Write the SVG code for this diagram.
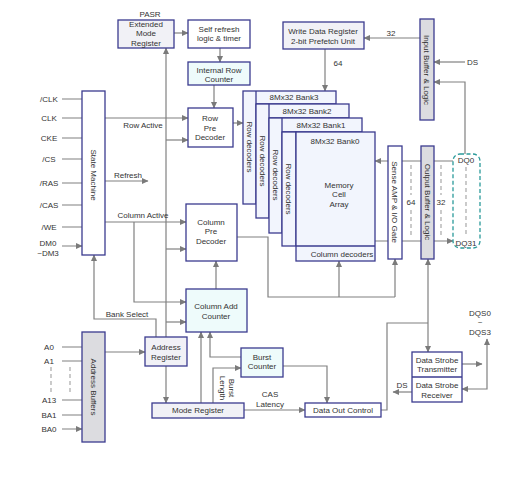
<svg xmlns="http://www.w3.org/2000/svg" width="509" height="493" viewBox="0 0 509 493">
<defs>
<marker id="ah" markerUnits="userSpaceOnUse" markerWidth="7" markerHeight="6" refX="6" refY="3" orient="auto-start-reverse"><path d="M0,0 L6.5,3 L0,6 z" fill="#7a7a7a"/></marker>
</defs>
<style>
text{font-family:"Liberation Sans",Arial,sans-serif;font-size:8px;fill:#333}
.c{text-anchor:middle}
.b{stroke:#3b3b8f;stroke-width:1.3;fill:#fff}
.g{fill:#dcdce0}
.lg{fill:#f1f1f6}
.cy{fill:#eefbfb}
.bk{fill:#f2f5fd}
.l{stroke:#808080;stroke-width:1.2;fill:none}
.a{marker-end:url(#ah)}
.bi{marker-start:url(#ah);marker-end:url(#ah)}
.d{stroke:#a8a8a8;stroke-width:1.2;stroke-dasharray:4 3;fill:none}
</style>
<rect width="509" height="493" fill="#fff"/>

<g id="connectors">
<!-- control inputs -->
<path class="l a" d="M62,99H82M62,118H82M62,138H82M62,159H82M62,183H82M62,205H82M62,227H82M62,246H82"/>
<!-- address inputs -->
<path class="l a" d="M62,347H82M62,361H82M62,400H82M62,415H82M62,429H82"/>
<path class="d" d="M51,367V393M70,367V393"/>
<!-- state machine outputs -->
<path class="l a" d="M105,118H188"/>
<path class="l a" d="M105,181H148"/>
<path class="l a" d="M105,222H186"/>
<path class="l a" d="M134,222V302H186"/>
<!-- long vertical -->
<path class="l a" d="M166,337V48"/>
<path class="l a" d="M166,140H188"/>
<path class="l a" d="M166,249H186"/>
<path class="l a" d="M166,322H186"/>
<path class="l a" d="M166,366V403"/>
<!-- bank select -->
<path class="l a" d="M156,337V319H94V255"/>
<path class="l a" d="M105,352H145"/>
<!-- top chain -->
<path class="l a" d="M174,33H188"/>
<path class="l a" d="M220,48V62"/>
<path class="l a" d="M214,85V108"/>
<path class="l a" d="M233,123H243"/>
<!-- column path -->
<path class="l a" d="M216,289V261"/>
<path class="l" d="M237,237H268V297H395"/>
<path class="l a" d="M339,297V261"/>
<path class="l a" d="M395,297V259"/>
<!-- mode/burst -->
<path class="l a" d="M201,403V332"/>
<path class="l a" d="M241,357H210V332"/>
<path class="l a" d="M213,403V368H241"/>
<path class="l a" d="M283,366H327V403"/>
<path class="l a" d="M244,410H305"/>
<!-- data out -->
<path class="l" d="M381,410H387V323H428"/>
<path class="l a" d="M428,323V259"/>
<path class="l a" d="M428,323V352"/>
<!-- data strobe -->
<path class="l a" d="M462,364H482"/>
<path class="l bi" d="M487,339V389H462"/>
<path class="l a" d="M412,392H393"/>
<!-- write path -->
<path class="l a" d="M420,38H364"/>
<path class="l a" d="M325,49V91"/>
<path class="l a" d="M465,62H434"/>
<path class="l a" d="M465,154V82H434"/>
<!-- bidirectional data -->
<path class="l bi" d="M375,161H388M375,241H388M402,161H421M402,241H421M434,161H453M434,241H453"/>
<path class="d" d="M411,165V195M411,210V236M441,165V195M441,210V236M466,167V237"/>
</g>

<g id="labels">
<text class="c" x="49" y="102">/CLK</text>
<text class="c" x="49" y="121">CLK</text>
<text class="c" x="49" y="141">CKE</text>
<text class="c" x="49" y="162">/CS</text>
<text class="c" x="49" y="186">/RAS</text>
<text class="c" x="49" y="208">/CAS</text>
<text class="c" x="49" y="230">/WE</text>
<text class="c" x="48" y="246">DM0</text>
<text class="c" x="48" y="256">~DM3</text>
<text class="c" x="49" y="350">A0</text>
<text class="c" x="49" y="364">A1</text>
<text class="c" x="49" y="403">A13</text>
<text class="c" x="49" y="418">BA1</text>
<text class="c" x="49" y="432">BA0</text>
<text class="c" x="143" y="128">Row Active</text>
<text class="c" x="128" y="178">Refresh</text>
<text class="c" x="143" y="218">Column Active</text>
<text class="c" x="127" y="317">Bank Select</text>
<text class="c" x="150" y="17">PASR</text>
<text class="c" x="391" y="36">32</text>
<text class="c" x="338" y="66">64</text>
<text x="467" y="65">DS</text>
<text class="c" x="411" y="205">64</text>
<text class="c" x="441" y="205">32</text>
<text class="c" x="402" y="388">DS</text>
<text class="c" x="270" y="397">CAS</text>
<text class="c" x="270" y="407">Latency</text>
<text class="c" transform="translate(226,388) rotate(90)"><tspan x="0" y="-3">Burst</tspan><tspan x="0" y="6">Length</tspan></text>
<text class="c" x="480" y="316">DQS0</text>
<text class="c" x="480" y="325">~</text>
<text class="c" x="480" y="335">DQS3</text>
</g>

<g id="emr"><rect class="b lg" x="118" y="20" width="56" height="28"/>
<text class="c" x="146" y="27">Extended</text><text class="c" x="146" y="36">Mode</text><text class="c" x="146" y="46">Register</text></g>

<g id="self-refresh"><rect class="b" x="188" y="20" width="62" height="28"/>
<text class="c" x="219" y="32">Self refresh</text><text class="c" x="219" y="41">logic &amp; timer</text></g>

<g id="internal-row-counter"><rect class="b cy" x="188" y="62" width="62" height="23"/>
<text class="c" x="219" y="73">Internal  Row</text><text class="c" x="219" y="82">Counter</text></g>

<g id="row-pre-decoder"><rect class="b" x="188" y="108" width="45" height="39"/>
<text class="c" x="210" y="121">Row</text><text class="c" x="210" y="131">Pre</text><text class="c" x="210" y="140">Decoder</text></g>

<g id="state-machine"><rect class="b" x="82" y="91" width="23" height="164"/>
<text class="c" transform="translate(93.5,175) rotate(90)" y="3">State Machine</text></g>

<g id="column-pre-decoder"><rect class="b" x="186" y="204" width="51" height="57"/>
<text class="c" x="211" y="225">Column</text><text class="c" x="211" y="234">Pre</text><text class="c" x="211" y="244">Decoder</text></g>

<g id="column-add-counter"><rect class="b cy" x="186" y="289" width="61" height="43"/>
<text class="c" x="216" y="309">Column Add</text><text class="c" x="216" y="319">Counter</text></g>

<g id="address-register"><rect class="b lg" x="145" y="337" width="42" height="29"/>
<text class="c" x="166" y="350">Address</text><text class="c" x="166" y="360">Register</text></g>

<g id="address-buffers"><rect class="b g" x="82" y="332" width="23" height="110"/>
<text class="c" transform="translate(93.5,387) rotate(90)" y="3">Address Buffers</text></g>

<g id="mode-register"><rect class="b lg" x="152" y="403" width="92" height="15"/>
<text class="c" x="198" y="413">Mode Register</text></g>

<g id="burst-counter"><rect class="b cy" x="241" y="348" width="42" height="29"/>
<text class="c" x="262" y="360">Burst</text><text class="c" x="262" y="369">Counter</text></g>

<g id="data-out-control"><rect class="b" x="305" y="403" width="76" height="14"/>
<text class="c" x="343" y="413">Data Out Control</text></g>

<g id="data-strobe"><rect class="b" x="412" y="352" width="50" height="50"/>
<path d="M412,377H462" stroke="#3b3b8f" stroke-width="1.3"/>
<text class="c" x="437" y="363">Data Strobe</text><text class="c" x="437" y="372">Transmitter</text>
<text class="c" x="437" y="388">Data Strobe</text><text class="c" x="437" y="398">Receiver</text></g>

<g id="write-data-register"><rect class="b lg" x="283" y="22" width="81" height="27"/>
<text class="c" x="323" y="34">Write Data Register</text><text class="c" x="323" y="44">2-bit Prefetch Unit</text></g>

<g id="input-buffer"><rect class="b g" x="420" y="19" width="14" height="101"/>
<text class="c" transform="translate(427,70) rotate(90)" y="3">Input Buffer &amp; Logic</text></g>

<g id="bank3"><rect class="b bk" x="243" y="91" width="93" height="113"/>
<path d="M256,91V204M256,104H336" stroke="#3b3b8f" stroke-width="1.3"/>
<text class="c" x="294" y="100">8Mx32 Bank3</text>
<text class="c" transform="translate(249.5,147) rotate(90)" y="3">Row decoders</text></g>

<g id="bank2"><rect class="b bk" x="256" y="104" width="93" height="114"/>
<path d="M269,104V218M269,118H349" stroke="#3b3b8f" stroke-width="1.3"/>
<text class="c" x="307" y="114">8Mx32 Bank2</text>
<text class="c" transform="translate(262.5,161) rotate(90)" y="3">Row decoders</text></g>

<g id="bank1"><rect class="b bk" x="269" y="118" width="93" height="115"/>
<path d="M282,118V233M282,132H362" stroke="#3b3b8f" stroke-width="1.3"/>
<text class="c" x="321" y="128">8Mx32 Bank1</text>
<text class="c" transform="translate(275.5,175) rotate(90)" y="3">Row decoders</text></g>

<g id="bank0"><rect class="b bk" x="282" y="132" width="14" height="114"/>
<rect class="b bk" x="296" y="132" width="79" height="129"/>
<path d="M296,246H375" stroke="#3b3b8f" stroke-width="1.3"/>
<text class="c" x="335" y="144">8Mx32 Bank0</text>
<text class="c" transform="translate(289,189) rotate(90)" y="3">Row decoders</text>
<text class="c" x="339" y="188">Memory</text><text class="c" x="339" y="197">Cell</text><text class="c" x="339" y="207">Array</text>
<text class="c" x="342" y="257">Column decoders</text></g>

<g id="sense-amp"><rect class="b" x="388" y="146" width="14" height="113"/>
<text class="c" transform="translate(395,202) rotate(90)" y="3">Sense AMP &amp; I/O Gate</text></g>

<g id="output-buffer"><rect class="b g" x="421" y="146" width="13" height="113"/>
<text class="c" transform="translate(427.5,202) rotate(90)" y="3">Output Buffer &amp; Logic</text></g>

<g id="dq"><rect x="453" y="154" width="27" height="94" rx="7" fill="none" stroke="#2a9a9a" stroke-width="1.3" stroke-dasharray="4 2.5"/>
<text class="c" x="466" y="163">DQ0</text><text class="c" x="466" y="246">DQ31</text></g>
</svg>
